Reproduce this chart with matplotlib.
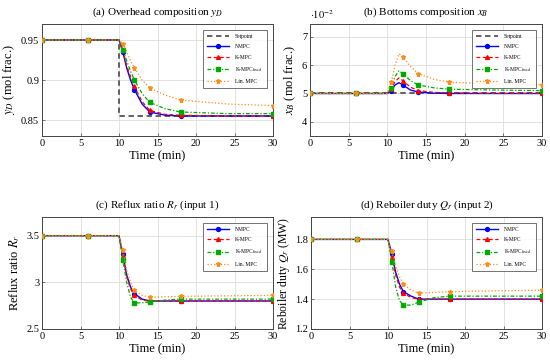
import matplotlib
matplotlib.use("Agg")
import matplotlib.pyplot as plt

plt.rcParams['font.family'] = ['Liberation Serif', 'DejaVu Serif']
plt.rcParams['mathtext.fontset'] = 'stix'

# time grid (min)
t = [0, 6, 10, 10.5, 11, 11.5, 12, 13, 14, 16, 18, 24, 30]
mark_idx = [0, 1, 3, 6, 8, 10, 12]

sp_t = [0, 10, 10, 30]
sp_yD = [0.95, 0.95, 0.855, 0.855]
sp_xB = [5.0, 5.0, 5.0, 5.0]

# (a) overhead composition
yD_nmpc = [0.95, 0.95, 0.95, 0.935, 0.915, 0.900, 0.888, 0.870, 0.860, 0.856, 0.855, 0.855, 0.855]
yD_kmpc = [0.95, 0.95, 0.95, 0.937, 0.918, 0.904, 0.892, 0.873, 0.862, 0.857, 0.856, 0.855, 0.855]
yD_fix = [0.95, 0.95, 0.95, 0.938, 0.924, 0.911, 0.900, 0.883, 0.872, 0.864, 0.860, 0.858, 0.858]
yD_lin = [0.95, 0.95, 0.95, 0.945, 0.935, 0.924, 0.915, 0.900, 0.890, 0.881, 0.875, 0.870, 0.868]

# (b) bottoms composition (x 1e-2)
xB_nmpc = [5, 5, 5, 5.10, 5.30, 5.38, 5.30, 5.12, 5.05, 5.01, 5.00, 5.00, 5.00]
xB_kmpc = [5, 5, 5, 5.15, 5.42, 5.55, 5.45, 5.22, 5.10, 5.04, 5.02, 5.00, 5.00]
xB_fix = [5, 5, 5, 5.20, 5.60, 5.80, 5.70, 5.45, 5.30, 5.20, 5.15, 5.12, 5.10]
xB_lin = [5, 5, 5, 5.40, 6.00, 6.40, 6.30, 5.95, 5.70, 5.50, 5.40, 5.33, 5.30]

# (c) reflux ratio
R_nmpc = [3.5, 3.5, 3.5, 3.30, 3.08, 2.95, 2.88, 2.82, 2.80, 2.80, 2.80, 2.80, 2.80]
R_kmpc = [3.5, 3.5, 3.5, 3.28, 3.06, 2.93, 2.86, 2.81, 2.80, 2.80, 2.80, 2.80, 2.80]
R_fix = [3.5, 3.5, 3.5, 3.24, 3.00, 2.84, 2.78, 2.78, 2.79, 2.81, 2.82, 2.82, 2.82]
R_lin = [3.5, 3.5, 3.5, 3.35, 3.13, 3.00, 2.92, 2.86, 2.84, 2.845, 2.85, 2.855, 2.86]

# (d) reboiler duty
Q_nmpc = [1.8, 1.8, 1.8, 1.70, 1.58, 1.50, 1.45, 1.42, 1.40, 1.40, 1.40, 1.40, 1.40]
Q_kmpc = [1.8, 1.8, 1.8, 1.68, 1.56, 1.48, 1.44, 1.41, 1.40, 1.40, 1.40, 1.40, 1.40]
Q_fix = [1.8, 1.8, 1.8, 1.65, 1.48, 1.39, 1.36, 1.36, 1.38, 1.41, 1.42, 1.42, 1.42]
Q_lin = [1.8, 1.8, 1.8, 1.72, 1.62, 1.55, 1.50, 1.46, 1.44, 1.445, 1.45, 1.455, 1.46]

ORANGE = '#ff8c1a'
styles = [
    ('NMPC', 'blue', '-', 'o', 1.0),
    ('K-MPC', 'red', (0, (3, 2)), '^', 0.9),
    (r'K-MPC$_{\mathrm{fixed}}$', '#00aa00', (0, (3, 1.5, 1, 1.5)), 's', 0.9),
    ('Lin. MPC', ORANGE, ':', '*', 0.9),
]

fig = plt.figure(figsize=(5.5, 3.61), dpi=100)
W, H = 550, 361


def make_ax(x0, y0, x1, y1):
    return fig.add_axes([x0 / W, 1 - y1 / H, (x1 - x0) / W, (y1 - y0) / H])


def style_ax(ax, ylim, yticks, yticklabels=None):
    ax.set_xlim(0, 30)
    ax.set_ylim(*ylim)
    ax.set_xticks([0, 5, 10, 15, 20, 25, 30])
    ax.set_yticks(yticks)
    if yticklabels:
        ax.set_yticklabels(yticklabels)
    ax.grid(True, color='#dddddd', lw=0.6)
    ax.set_axisbelow(True)
    ax.tick_params(direction='in', length=2.5, width=0.5, labelsize=7.5, pad=2,
                   color='#444444')
    for s in ax.spines.values():
        s.set_color('#444444')
        s.set_linewidth(0.7)
    ax.set_xlabel('Time (min)', fontsize=9, labelpad=2)


def draw(ax, series, setpoint=None):
    if setpoint is not None:
        ax.plot(sp_t, setpoint, color='#555555', ls=(0, (3, 2)), lw=1.3,
                label='Setpoint', zorder=2)
    for (lab, c, ls, m, lw), y in zip(styles, series):
        ax.plot(t, y, color=c, ls=ls, lw=lw, marker=m, markevery=mark_idx,
                ms=2.8 if m != '*' else 3.6, label=lab, zorder=3)
    leg = ax.legend(loc='upper right', fontsize=4, frameon=True, fancybox=False,
                    handlelength=4.0, borderpad=0.8, labelspacing=0.95,
                    handletextpad=1.0, bbox_to_anchor=(0.985, 0.975))
    leg.get_frame().set_edgecolor('#333333')
    leg.get_frame().set_linewidth(0.6)


axa = make_ax(42, 24, 273, 136)
draw(axa, [yD_nmpc, yD_kmpc, yD_fix, yD_lin], sp_yD)
style_ax(axa, (0.83, 0.97), [0.85, 0.9, 0.95], ['0.85', '0.9', '0.95'])
axa.set_ylabel(r'$y_D$ (mol frac.)', fontsize=9, labelpad=3)
axa.set_title(r'(a) Overhead composition $y_D$', fontsize=8, pad=7)

axb = make_ax(310, 24, 542, 136)
draw(axb, [xB_nmpc, xB_kmpc, xB_fix, xB_lin], sp_xB)
style_ax(axb, (3.5, 7.45), [4, 5, 6, 7])
axb.set_ylabel(r'$x_B$ (mol frac.)', fontsize=9, labelpad=3)
axb.set_title(r'(b) Bottoms composition $x_B$', fontsize=8, pad=7)
axb.text(0.0, 1.03, r'$\cdot10^{-2}$', transform=axb.transAxes, fontsize=7.5,
         ha='left', va='bottom')

axc = make_ax(42, 217, 273, 329)
draw(axc, [R_nmpc, R_kmpc, R_fix, R_lin])
style_ax(axc, (2.5, 3.7), [2.5, 3, 3.5], ['2.5', '3', '3.5'])
axc.set_ylabel(r'Reflux ratio $R_r$', fontsize=9, labelpad=3)
axc.set_title(r'(c) Reflux ratio $R_r$ (input 1)', fontsize=8, pad=7)

axd = make_ax(311, 217, 542, 329)
draw(axd, [Q_nmpc, Q_kmpc, Q_fix, Q_lin])
style_ax(axd, (1.2, 1.95), [1.2, 1.4, 1.6, 1.8])
axd.set_ylabel(r'Reboiler duty $Q_r$ (MW)', fontsize=8.5, labelpad=2)
axd.set_title(r'(d) Reboiler duty $Q_r$ (input 2)', fontsize=8, pad=7)

fig.savefig('out.png', dpi=100)
